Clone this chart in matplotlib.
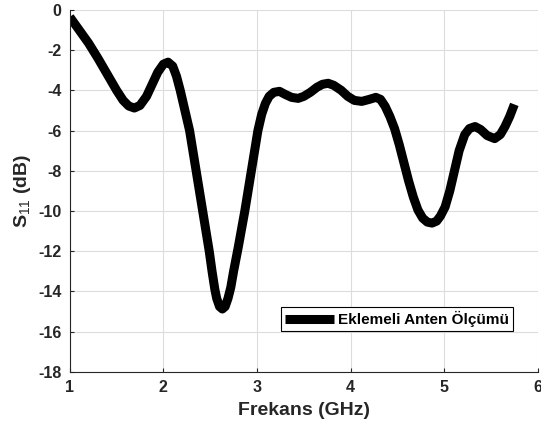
import matplotlib
matplotlib.use("Agg")
import matplotlib.pyplot as plt

plt.rcParams["font.family"] = ["Liberation Sans", "DejaVu Sans"]
plt.rcParams["mathtext.fontset"] = "custom"
plt.rcParams["mathtext.rm"] = "Liberation Sans"
plt.rcParams["mathtext.it"] = "Liberation Sans"
plt.rcParams["axes.unicode_minus"] = False

freq_ghz = [1.00, 1.10, 1.20, 1.30, 1.40, 1.50, 1.57, 1.63, 1.69, 1.75,
            1.82, 1.88, 1.94, 2.00, 2.05, 2.10, 2.14, 2.18, 2.23, 2.28,
            2.35, 2.42, 2.49, 2.52, 2.55, 2.57, 2.60, 2.63, 2.66, 2.69,
            2.72, 2.75, 2.80, 2.87, 2.94, 3.01, 3.05, 3.09, 3.13, 3.18,
            3.24, 3.30, 3.37, 3.44, 3.50, 3.57, 3.64, 3.70, 3.76, 3.82,
            3.90, 3.97, 4.04, 4.12, 4.20, 4.27, 4.32, 4.37, 4.42, 4.47,
            4.52, 4.57, 4.62, 4.67, 4.72, 4.77, 4.82, 4.87, 4.92, 4.96,
            5.01, 5.06, 5.11, 5.16, 5.22, 5.27, 5.33, 5.39, 5.46, 5.54,
            5.60, 5.65, 5.70, 5.75]
s11_db = [-0.35, -1.0, -1.65, -2.4, -3.2, -4.0, -4.5, -4.78, -4.88, -4.75,
          -4.3, -3.7, -3.1, -2.7, -2.6, -2.8, -3.3, -4.0, -5.0, -6.0,
          -8.0, -10.0, -12.0, -13.0, -13.9, -14.35, -14.75, -14.87, -14.75, -14.35,
          -13.8, -13.0, -11.8, -10.0, -8.0, -6.0, -5.2, -4.65, -4.3, -4.1,
          -4.05, -4.2, -4.35, -4.4, -4.3, -4.1, -3.85, -3.7, -3.65, -3.75,
          -4.0, -4.3, -4.5, -4.55, -4.45, -4.35, -4.45, -4.8, -5.3, -5.9,
          -6.7, -7.6, -8.5, -9.3, -9.95, -10.35, -10.55, -10.6, -10.5, -10.25,
          -9.8, -9.0, -8.0, -7.0, -6.2, -5.9, -5.8, -5.95, -6.25, -6.4,
          -6.2, -5.8, -5.3, -4.7]

x_ticks = [1, 2, 3, 4, 5, 6]
y_ticks = [0, -2, -4, -6, -8, -10, -12, -14, -16, -18]
legend_label = "Eklemeli Anten Ölçümü"

fig = plt.figure(figsize=(5.41, 4.29), dpi=100)
ax = fig.add_axes([0.129, 0.133, 0.865, 0.844])

ax.plot(freq_ghz, s11_db, color="black", lw=6.5, solid_joinstyle="round",
        solid_capstyle="butt", label=legend_label)

ax.set_xlim(1, 6)
ax.set_ylim(-18, 0)
ax.set_xticks(x_ticks)
ax.set_yticks(y_ticks)
ax.grid(True, color="#dcdcdc", lw=0.8)
ax.set_axisbelow(True)

for s in ["top", "right"]:
    ax.spines[s].set_visible(False)
for s in ["left", "bottom"]:
    ax.spines[s].set_color("#262626")
    ax.spines[s].set_linewidth(0.8)

ax.tick_params(direction="in", length=3, width=0.8, colors="#262626",
               labelsize=11.5, pad=6)
for lbl in ax.get_xticklabels() + ax.get_yticklabels():
    lbl.set_fontweight("bold")

ax.set_xlabel("Frekans (GHz)", fontsize=14, fontweight="bold", color="#262626", labelpad=5)
ax.set_ylabel("S$_{11}$ (dB)", fontsize=14, fontweight="bold", color="#262626", labelpad=4)

leg = ax.legend(loc="lower right", bbox_to_anchor=(0.947, 0.113), fancybox=False,
                framealpha=1, edgecolor="black", borderpad=0.25, handlelength=3.2,
                handletextpad=0.3, borderaxespad=0,
                prop={"weight": "bold", "size": 11})
leg.get_frame().set_linewidth(0.8)

fig.savefig("out.png", dpi=100)
